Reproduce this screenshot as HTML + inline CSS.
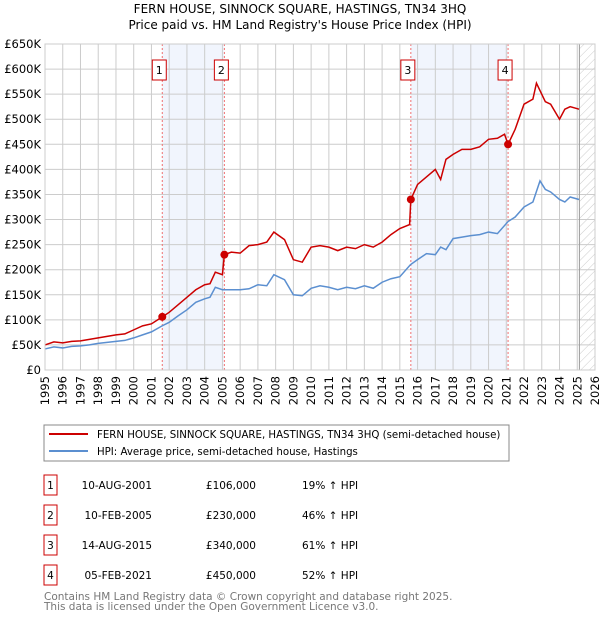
<!DOCTYPE html>
<html><head><meta charset="utf-8"><style>
body{margin:0;background:#fff;font-family:"DejaVu Sans","Liberation Sans",sans-serif;}
svg text{font-family:"DejaVu Sans","Liberation Sans",sans-serif;}
</style></head><body>
<svg id="c" width="600" height="620" xmlns="http://www.w3.org/2000/svg">
<defs><pattern id="hatch" width="6" height="6" patternUnits="userSpaceOnUse" patternTransform="rotate(45)"><line x1="0" y1="0" x2="0" y2="6" stroke="#ccc" stroke-width="1"/></pattern></defs>
<text x="300" y="13" text-anchor="middle" font-size="12">FERN HOUSE, SINNOCK SQUARE, HASTINGS, TN34 3HQ</text>
<text x="300" y="29" text-anchor="middle" font-size="12">Price paid vs. HM Land Registry's House Price Index (HPI)</text>
<g id="plot"></g>
<rect x="44" y="425" width="465" height="36" fill="#fff" stroke="#888"/>
<line x1="49" y1="434" x2="88" y2="434" stroke="#cc0000" stroke-width="2"/>
<text x="97" y="438" font-size="10.2">FERN HOUSE, SINNOCK SQUARE, HASTINGS, TN34 3HQ (semi-detached house)</text>
<line x1="49" y1="451" x2="88" y2="451" stroke="#5b8fd0" stroke-width="2"/>
<text x="97" y="455" font-size="10.2">HPI: Average price, semi-detached house, Hastings</text>
<g id="table" font-size="10.5"></g>
<text x="44" y="600" font-size="10.5" fill="#777">Contains HM Land Registry data © Crown copyright and database right 2025.</text>
<text x="44" y="610" font-size="10.5" fill="#777">This data is licensed under the Open Government Licence v3.0.</text>
</svg>
<script>
const hpiYears=[1995,1995.5,1996,1996.5,1997,1997.5,1998,1998.5,1999,1999.5,2000,2000.5,2001,2001.6,2002,2002.5,2003,2003.5,2004,2004.3,2004.6,2005,2005.5,2006,2006.5,2007,2007.5,2007.9,2008.5,2009,2009.5,2010,2010.5,2011,2011.5,2012,2012.5,2013,2013.5,2014,2014.5,2015,2015.6,2016,2016.5,2017,2017.3,2017.6,2018,2018.5,2019,2019.5,2020,2020.5,2021.1,2021.5,2022,2022.5,2022.9,2023.2,2023.5,2024,2024.3,2024.6,2025.1];
const hpiValues=[42,46,44,47,48,50,53,55,57,59,64,70,76,88,95,108,120,135,142,145,165,160,160,160,162,170,168,190,180,150,148,163,168,165,160,165,162,168,163,175,182,186,210,220,232,230,245,240,262,265,268,270,275,272,296,305,325,335,377,360,355,340,335,345,340];
const propYears=[1995,1995.5,1996,1996.5,1997,1997.5,1998,1998.5,1999,1999.5,2000,2000.5,2001,2001.61,2002,2002.5,2003,2003.5,2004,2004.3,2004.6,2005.0,2005.11,2005.5,2006,2006.5,2007,2007.5,2007.9,2008.5,2009,2009.5,2010,2010.5,2011,2011.5,2012,2012.5,2013,2013.5,2014,2014.5,2015,2015.55,2015.62,2016,2016.5,2017,2017.3,2017.6,2018,2018.5,2019,2019.5,2020,2020.5,2020.9,2021.1,2021.5,2022,2022.5,2022.7,2023.2,2023.5,2024,2024.3,2024.6,2025.1];
const propValues=[50,56,54,57,58,61,64,67,70,72,80,88,92,106,115,130,145,160,170,172,195,190,230,235,233,248,250,255,275,260,220,215,245,248,245,238,245,242,250,245,255,270,282,290,340,370,385,400,380,420,430,440,440,445,460,462,470,450,480,530,540,572,535,530,500,520,525,520];
const saleYears=[2001.61,2005.11,2015.62,2021.10];
const saleValues=[106,230,340,450];
const saleLabels=["1","2","3","4"];
const saleDates=["10-AUG-2001","10-FEB-2005","14-AUG-2015","05-FEB-2021"];
const salePrices=["£106,000","£230,000","£340,000","£450,000"];
const saleHpi=["19% ↑ HPI","46% ↑ HPI","61% ↑ HPI","52% ↑ HPI"];
const yTicks=[0,50,100,150,200,250,300,350,400,450,500,550,600,650];
const xTicks=[1995,1996,1997,1998,1999,2000,2001,2002,2003,2004,2005,2006,2007,2008,2009,2010,2011,2012,2013,2014,2015,2016,2017,2018,2019,2020,2021,2022,2023,2024,2025,2026];
const dataEnd=2025.12;
const X=y=>45+(y-1995)*(550/31);
const Y=v=>370-v*(326/650);
const NS="http://www.w3.org/2000/svg";
const plot=document.getElementById('plot');
function mk(t,a,p){const e=document.createElementNS(NS,t);for(const k in a)e.setAttribute(k,a[k]);(p||plot).appendChild(e);return e;}
let e;
for(let i=0;i<2;i++){e=mk('rect',{x:X(saleYears[i*2]),y:Y(650),width:X(saleYears[i*2+1])-X(saleYears[i*2]),height:Y(0)-Y(650),fill:'#eef3fc',opacity:0.8});

}
e=mk('rect',{x:X(dataEnd),y:Y(650),width:X(2026)-X(dataEnd),height:Y(0)-Y(650),fill:'url(#hatch)'});


yTicks.forEach(v=>{e=mk('line',{x1:45,x2:595,y1:Y(v),y2:Y(v),stroke:'#ccc'});


e=mk('text',{x:41,y:Y(v)+4,'text-anchor':'end','font-size':'11.5'});e.textContent=v===0?'£0':'£'+v+'K';

});
xTicks.forEach(t=>{e=mk('line',{x1:X(t),x2:X(t),y1:Y(650),y2:Y(0),stroke:'#ccc'});


const tx=X(t)+4;
e=mk('text',{x:tx,y:376,'text-anchor':'end','font-size':'11.5',transform:'rotate(-90 '+tx+' 376)'});e.textContent=t;

});
e=mk('line',{x1:X(dataEnd),x2:X(dataEnd),y1:Y(650),y2:Y(0),stroke:'#999'});


saleYears.forEach((s,i)=>{e=mk('line',{x1:X(s),x2:X(s),y1:Y(650),y2:Y(0),stroke:'#f07070','stroke-dasharray':'2,2'});

});
e=mk('polyline',{points:hpiYears.map((y,i)=>X(y)+','+Y(hpiValues[i])).join(' '),fill:'none',stroke:'#5b8fd0','stroke-width':1.5});


e=mk('polyline',{points:propYears.map((y,i)=>X(y)+','+Y(propValues[i])).join(' '),fill:'none',stroke:'#cc0000','stroke-width':1.5});


saleYears.forEach((s,i)=>{e=mk('circle',{cx:X(s),cy:Y(saleValues[i]),r:4,fill:'#cc0000'});


e=mk('rect',{x:X(s)-10,y:60,width:14,height:20,fill:'#fff',stroke:'#cc0000'});


e=mk('text',{x:X(s)-3,y:74,'text-anchor':'middle','font-size':'11'});e.textContent=saleLabels[i];

});
e=mk('rect',{x:45,y:Y(650),width:550,height:Y(0)-Y(650),fill:'none',stroke:'#ccc'});


const tb=document.getElementById('table');
saleLabels.forEach((l,i)=>{const y=475+i*30;
e=mk('rect',{x:44,y:y,width:13,height:20,fill:'#fff',stroke:'#cc0000'},tb);


const cols=[[50.5,l,'middle'],[152,saleDates[i],'end'],[256,salePrices[i],'end'],[302,saleHpi[i],'start']];
cols.forEach(([x,t,a],j)=>{e=mk('text',{x:x,y:y+14,'text-anchor':a},tb);e.textContent=t;

});});
</script>
</body></html>
